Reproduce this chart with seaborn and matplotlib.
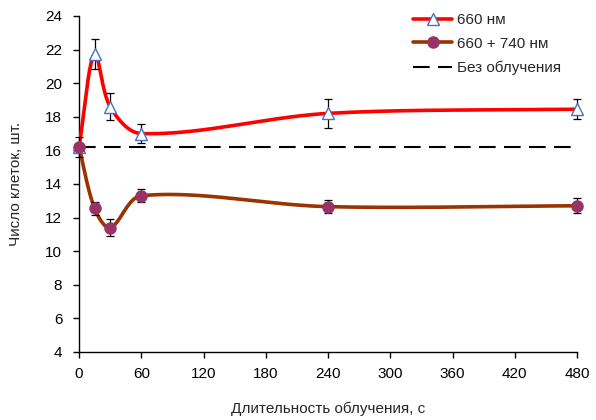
import numpy as np
import pandas as pd
import seaborn as sns
import matplotlib.pyplot as plt
from matplotlib.lines import Line2D

# data
time_s = [0, 15, 30, 60, 240, 480]
cells_660 = [16.2, 21.75, 18.6, 17.0, 18.2, 18.45]
err_660 = [0.6, 0.9, 0.8, 0.55, 0.85, 0.6]
cells_660_740 = [16.2, 12.55, 11.4, 13.3, 12.65, 12.7]
err_660_740 = [0.0, 0.4, 0.5, 0.4, 0.4, 0.45]
control_level = 16.2

x_ticks = [0, 60, 120, 180, 240, 300, 360, 420, 480]
y_ticks = [4, 6, 8, 10, 12, 14, 16, 18, 20, 22, 24]

XMIN, XMAX, YMIN, YMAX = 0, 480, 4, 24


def smooth_curve(xs, ys, n=60):
    """Excel-like smoothed line: Catmull-Rom bezier in pixel-ish space."""
    # scale to roughly screen units so the smoothing looks like the original
    sx, sy = 498 / (XMAX - XMIN), 336 / (YMAX - YMIN)
    p = np.column_stack([np.asarray(xs, float) * sx, np.asarray(ys, float) * sy])
    d = np.linalg.norm(np.diff(p, axis=0), axis=1)
    m = len(p)
    tang = np.zeros_like(p)
    for i in range(m):
        if i == 0:
            tang[i] = (p[1] - p[0]) / d[0]
        elif i == m - 1:
            tang[i] = (p[-1] - p[-2]) / d[-1]
        else:
            tang[i] = (p[i + 1] - p[i - 1]) / (d[i - 1] + d[i])
    t = np.linspace(0, 1, n)[:, None]
    pts = []
    for i in range(m - 1):
        p0, p3 = p[i], p[i + 1]
        p1 = p0 + tang[i] * d[i] / 3
        p2 = p3 - tang[i + 1] * d[i] / 3
        seg = ((1 - t) ** 3) * p0 + 3 * ((1 - t) ** 2) * t * p1 \
            + 3 * (1 - t) * t ** 2 * p2 + t ** 3 * p3
        pts.append(seg if i == 0 else seg[1:])
    pts = np.vstack(pts)
    return pd.DataFrame({"x": pts[:, 0] / sx, "y": pts[:, 1] / sy})


sns.set_style("ticks")
plt.rcParams["font.family"] = ["Liberation Sans", "DejaVu Sans"]
plt.rcParams["font.size"] = 11

fig = plt.figure(figsize=(5.96, 4.2), dpi=100)
ax = fig.add_axes([0.1326, 0.162, 0.8356, 0.800])

red = "#FF0000"
brown = "#993300"
plum = "#993366"
blue_edge = "#4472C4"

ax.axhline(control_level, color="black", lw=1.5, dashes=(8, 4), zorder=2)

curve_660 = smooth_curve(time_s, cells_660)
curve_740 = smooth_curve(time_s, cells_660_740)
sns.lineplot(data=curve_660, x="x", y="y", sort=False, color=red, lw=2.6,
             ax=ax, zorder=3)
sns.lineplot(data=curve_740, x="x", y="y", sort=False, color=brown, lw=2.6,
             ax=ax, zorder=3)

for vals, errs in [(cells_660, err_660), (cells_660_740, err_660_740)]:
    eb = ax.errorbar(time_s, vals, yerr=errs, fmt="none", ecolor="black",
                     elinewidth=0.9, capsize=3, capthick=0.9, zorder=4)
    for art in eb.lines[1] + eb.lines[2]:
        art.set_clip_on(False)

ax.plot(time_s, cells_660, ls="none", marker="^", ms=8, mfc="white",
        mec=blue_edge, mew=1.0, zorder=5, clip_on=False)
ax.plot(time_s, cells_660_740, ls="none", marker="o", ms=8, mfc=plum,
        mec=plum, zorder=6, clip_on=False)

ax.set_xlim(XMIN, XMAX)
ax.set_ylim(YMIN, YMAX)
ax.set_xticks(x_ticks)
ax.set_yticks(y_ticks)
ax.tick_params(axis="both", direction="out", length=4, width=1, color="black",
               labelsize=11, labelcolor="black")
ax.tick_params(axis="x", pad=7)
ax.tick_params(axis="y", pad=8)
for side in ["left", "bottom"]:
    ax.spines[side].set_color("black")
    ax.spines[side].set_linewidth(1)
sns.despine(ax=ax)

ax.set_xlabel("Длительность облучения, с", fontsize=11, labelpad=15)
ax.set_ylabel("Число клеток, шт.", fontsize=11, labelpad=16)

handles = [
    Line2D([], [], color=red, lw=2.6, marker="^", ms=8, mfc="white",
           mec=blue_edge, mew=1.0),
    Line2D([], [], color=brown, lw=2.6, marker="o", ms=8, mfc=plum, mec=plum),
    Line2D([], [], color="black", lw=1.5, dashes=(8, 4)),
]
labels = ["660 нм", "660 + 740 нм", "Без облучения"]
ax.legend(handles, labels, loc="upper right", bbox_to_anchor=(0.995, 1.05),
          frameon=False, fontsize=11, handlelength=2.55, handletextpad=0.3,
          labelspacing=0.65)

fig.savefig("out.png", dpi=100)
